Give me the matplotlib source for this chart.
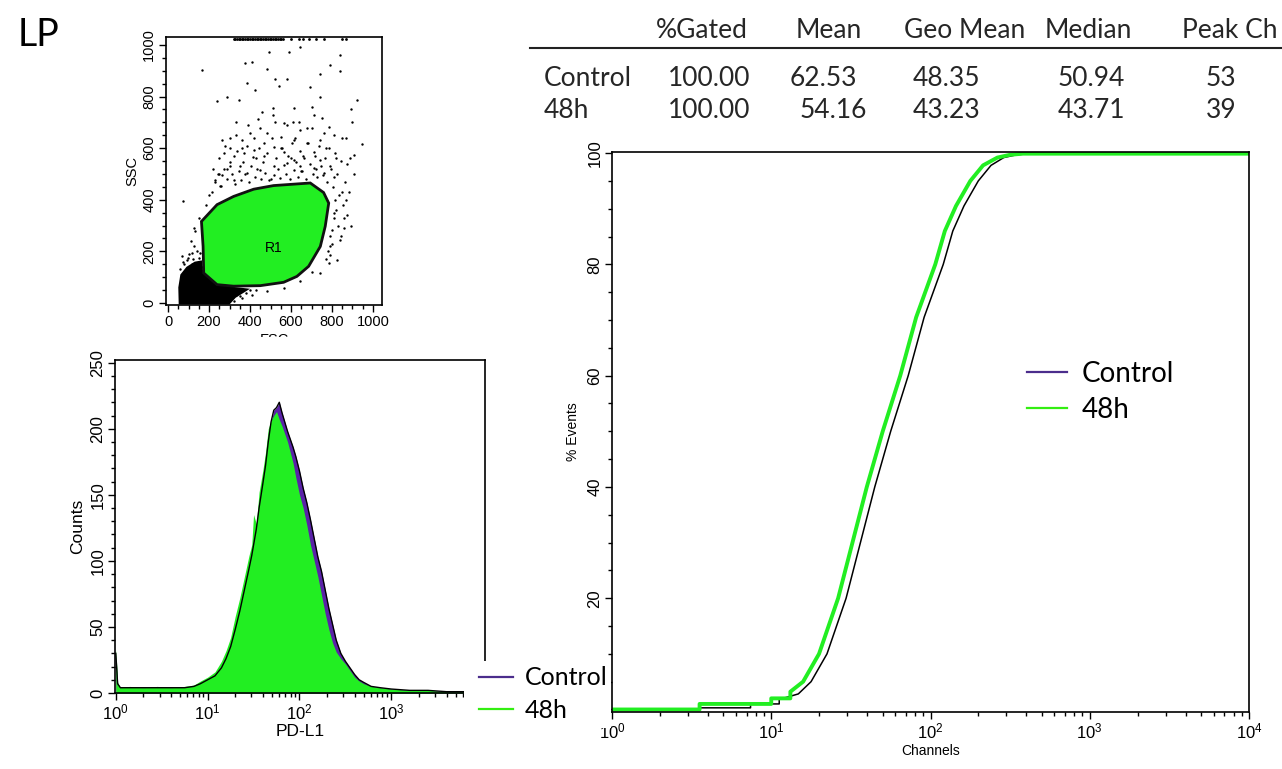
import matplotlib
matplotlib.use('Agg')
import matplotlib.pyplot as plt
from matplotlib.lines import Line2D
from matplotlib.patches import Polygon, Rectangle
from matplotlib.ticker import MultipleLocator, LogLocator, NullFormatter
import numpy as np

W, H = 1282, 769

# ---- data ----
# scatter: gate R1 and events outside it
gate_fsc = [163, 239, 320, 418, 515, 694, 759, 784, 767, 743, 686, 629, 564, 450, 320, 239, 174, 171]
gate_ssc = [316, 381, 413, 441, 455, 465, 428, 387, 297, 219, 142, 103, 80, 67, 65, 71, 116, 219]
debris_fsc = [52, 50, 60, 90, 130, 165, 172, 239, 320, 400, 330, 300]
debris_ssc = [-6, 60, 110, 140, 160, 165, 116, 71, 62, 55, 20, -6]
dot_fsc = [166, 73, 288, 239, 377, 410, 483, 491, 589, 646, 840, 840, 789, 743, 694, 922, 894, 946,
           907, 873, 849, 857, 841, 826, 702, 792, 613, 580, 524, 426, 385, 345, 441, 514, 514, 564,
           646, 711, 751, 784, 808, 743, 676, 613, 551, 483, 418, 361, 304, 263, 272, 320, 369, 418,
           470, 518, 564, 613, 660, 711, 743, 792, 808, 353, 304, 263, 231, 215, 255, 320, 385, 450,
           515, 580, 646, 711, 759, 816, 808, 800, 792, 784, 743, 646, 564, 483, 402, 320, 255, 190,
           125, 93, 117, 141, 223, 255, 320, 353, 68, 125, 158, 540, 610, 700, 470, 330, 600, 430,
           360, 680, 550, 460, 740, 620, 300, 400, 250, 290, 500, 650, 870, 900, 820, 770, 720,
           230, 245, 260, 275, 290, 300, 310, 325, 335, 345, 355, 365, 375, 385, 395, 405, 415, 425,
           435, 445, 455, 465, 475, 485, 495, 505, 515, 525, 535, 545, 555, 565, 575, 585, 595, 605,
           615, 625, 635, 645, 655, 665, 675, 685, 695, 705, 715, 725, 735, 745, 755, 765, 775, 785,
           795, 805, 815, 825, 835, 845, 855, 865, 875, 885, 895, 905, 820, 830, 845, 800, 810, 860,
           790, 780, 770, 870, 890, 850, 760, 700, 640, 580, 520, 450, 390, 330, 280, 250, 220, 200,
           185, 150, 130, 110, 140, 100, 80, 120,
           60, 75, 95, 115, 140, 150, 165, 180, 200, 230, 260, 290, 330, 360, 380, 410, 430, 250,
           200, 350]
dot_ssc = [903, 396, 800, 781, 929, 935, 907, 972, 974, 994, 961, 901, 923, 888, 839, 787, 751, 617,
           574, 539, 432, 329, 245, 168, 119, 187, 755, 868, 867, 826, 852, 787, 714, 755, 729, 697,
           671, 729, 716, 684, 652, 632, 619, 632, 645, 658, 639, 632, 639, 632, 581, 568, 581, 594,
           568, 606, 587, 555, 568, 587, 555, 529, 490, 529, 529, 497, 477, 432, 452, 477, 503, 516,
           529, 542, 529, 523, 503, 400, 348, 284, 219, 155, 116, 84, 58, 45, 52, 39, 32, 39,
           292, 168, 194, 77, 32, 13, 6, 26, 181, 219, 194, 840, 700, 760, 620, 700, 560, 560,
           600, 680, 600, 740, 800, 640, 600, 660, 500, 520, 480, 510, 640, 700, 560, 600, 520,
           470, 500, 455, 520, 480, 545, 500, 460, 590, 510, 475, 545, 500, 610, 470, 530, 565, 490,
           520, 600, 480, 545, 505, 580, 475, 640, 495, 560, 520, 485, 600, 535, 500, 570, 480, 620,
           515, 545, 490, 590, 510, 560, 480, 620, 540, 500, 570, 490, 610, 530, 495, 560, 470, 600,
           520, 450, 580, 500, 420, 550, 380, 470, 340, 430, 300, 500, 360, 300, 260, 230, 330, 290,
           260, 200, 170, 400, 560, 640, 660, 680, 700, 690, 700, 680, 690, 650, 610, 560, 520, 420,
           380, 330, 280, 240, 200, 190, 150, 170,
           130, 160, 175, 150, 130, 175, 140, 90, 60, 45, 40, 35, 30, 20, 40, 30, 50, 20,
           25, 50]
top_fsc = [320, 328, 336, 344, 352, 360, 368, 376, 384, 392, 400, 408, 416, 424, 432, 440, 448, 456,
           464, 472, 480, 488, 496, 504, 512, 520, 528, 536, 544, 552, 560, 600, 640, 660, 690, 720,
           760, 850, 870]

# histogram (log10 channel, counts)
pdl1_log = [0.00, 0.02, 0.05, 0.15, 0.30, 0.45, 0.60, 0.75, 0.85, 0.92, 1.00, 1.08, 1.15, 1.20, 1.25,
            1.30, 1.35, 1.40, 1.45, 1.48, 1.50, 1.53, 1.56, 1.60, 1.63, 1.66, 1.69, 1.72, 1.75, 1.78,
            1.81, 1.84, 1.87, 1.90, 1.93, 1.96, 2.00, 2.04, 2.08, 2.12, 2.16, 2.20, 2.24, 2.28, 2.32,
            2.36, 2.40, 2.45, 2.50, 2.55, 2.60, 2.65, 2.70, 2.78, 2.88, 3.00, 3.20, 3.40, 3.60, 3.80]
h48_counts = [33, 8, 4, 5, 4, 5, 4, 5, 6, 9, 12, 16, 24, 32, 42,
              58, 72, 88, 104, 112, 135, 128, 152, 168, 182, 200, 206, 210, 213, 207,
              202, 196, 190, 182, 174, 163, 150, 140, 127, 112, 100, 88, 74, 60, 48,
              38, 31, 26, 22, 17, 12, 9, 7, 5, 4, 3, 2, 2, 1, 1]
ctrl_counts = [30, 7, 4, 4, 4, 4, 4, 4, 5, 7, 10, 13, 19, 26, 35,
               48, 62, 78, 94, 104, 112, 124, 140, 158, 172, 190, 205, 214, 216, 220,
               212, 205, 198, 192, 186, 179, 168, 155, 144, 131, 117, 103, 92, 78, 64,
               52, 40, 30, 24, 19, 14, 10, 8, 5, 4, 3, 2, 2, 1, 1]

# cumulative % events
cdf48_log = [0.0, 0.55, 0.55, 1.00, 1.00, 1.12, 1.12, 1.20, 1.30, 1.42, 1.51, 1.60, 1.70, 1.81, 1.91,
             2.03, 2.09, 2.16, 2.25, 2.33, 2.42, 2.50, 2.58, 4.0]
cdf48_pct = [0.0, 0.0, 1.0, 1.0, 2.0, 2.0, 3.2, 5.0, 10.0, 20.0, 30.0, 40.0, 50.0, 60.0, 70.5,
             80.0, 86.0, 90.5, 95.0, 97.8, 99.2, 99.7, 99.9, 99.9]
cdfc_log = [0.0, 0.55, 0.55, 0.87, 0.87, 1.05, 1.05, 1.17, 1.25, 1.35, 1.47, 1.56, 1.65, 1.75, 1.86,
            1.96, 2.08, 2.14, 2.21, 2.30, 2.38, 2.46, 2.54, 2.62, 4.0]
cdfc_pct = [0.0, 0.0, 0.3, 0.3, 1.0, 1.0, 1.8, 2.8, 5.0, 10.0, 20.0, 30.0, 40.0, 50.0, 60.0,
            70.5, 80.0, 86.0, 90.5, 95.0, 97.8, 99.2, 99.7, 99.9, 99.9]

# statistics table
table_cols = ['%Gated', 'Mean', 'Geo Mean', 'Median', 'Peak Ch']
table_rows = ['Control', '48h']
table_vals = [['100.00', '62.53', '48.35', '50.94', '53'],
              ['100.00', '54.16', '43.23', '43.71', '39']]

green = '#22ee22'
purple = '#5a22a8'
legend_purple = '#4b2d8c'
tick_font = 'Liberation Sans'
text_font = 'Lato'
plt.rcParams['mathtext.default'] = 'regular'
plt.rcParams['font.family'] = tick_font


def fx(px):
    return px / W


def fy(py):
    return 1 - py / H


def axes_px(left, top, right, bottom):
    return [fx(left), fy(bottom), (right - left) / W, (bottom - top) / H]


def style(ax, size):
    ax.tick_params(which='both', direction='out', labelsize=size, width=1, pad=2)
    ax.tick_params(which='major', length=5)
    ax.tick_params(which='minor', length=3)
    for s in ax.spines.values():
        s.set_linewidth(1.2)
    for lab in ax.get_yticklabels():
        lab.set_rotation(90)
        lab.set_va('center')


fig = plt.figure(figsize=(W / 100, H / 100), dpi=100)

# ---- scatter FSC/SSC ----
ax1 = fig.add_axes(axes_px(166, 37, 382, 305))
ax1.add_patch(Polygon(np.column_stack([debris_fsc, debris_ssc]), closed=True, fc='k', ec='none'))
ax1.scatter(dot_fsc, dot_ssc, s=3, c='k', lw=0)
ax1.scatter(top_fsc, [1022] * len(top_fsc), s=4, c='k', lw=0, clip_on=False)
ax1.add_patch(Polygon(np.column_stack([gate_fsc, gate_ssc]), closed=True, fc=green, ec='#111111', lw=2))
ax1.text(515, 213, 'R1', ha='center', va='center', fontsize=10)
ax1.set_xlim(-10, 1044)
ax1.set_ylim(-8, 1031)
ax1.set_xticks(range(0, 1001, 200))
ax1.set_yticks(range(0, 1001, 200))
ax1.xaxis.set_minor_locator(MultipleLocator(50))
ax1.yaxis.set_minor_locator(MultipleLocator(50))
ax1.set_ylabel('SSC', fontsize=10.5, labelpad=2)
ax1.set_xlabel('FSC', fontsize=10.5, labelpad=3)
style(ax1, 10.5)

# ---- histogram ----
ax2 = fig.add_axes(axes_px(115, 360, 485, 693))
hx = 10 ** np.array(pdl1_log)
ax2.fill_between(hx, ctrl_counts, color=purple, lw=0)
ax2.plot(hx, ctrl_counts, color='k', lw=1)
ax2.fill_between(hx, h48_counts, color=green, lw=0)
ax2.set_xscale('log')
ax2.set_xlim(0.98, 10 ** 4.02)
ax2.set_ylim(0, 252)
ax2.set_yticks(range(0, 251, 50))
ax2.yaxis.set_minor_locator(MultipleLocator(10))
ax2.xaxis.set_major_locator(LogLocator(base=10, numticks=10))
ax2.xaxis.set_minor_locator(LogLocator(base=10, subs=np.arange(2, 10), numticks=20))
ax2.xaxis.set_minor_formatter(NullFormatter())
ax2.set_ylabel('Counts', fontsize=12.5, labelpad=4)
ax2.set_xlabel('PD-L1', fontsize=12.5, labelpad=1)
style(ax2, 12)

# ---- cumulative plot ----
ax3 = fig.add_axes(axes_px(612, 152, 1249, 712))
ax3.plot(10 ** np.array(cdfc_log), cdfc_pct, color='k', lw=1.1)
ax3.plot(10 ** np.array(cdf48_log), cdf48_pct, color=green, lw=2.8)
ax3.set_xscale('log')
ax3.set_xlim(1, 1e4)
ax3.set_ylim(-0.45, 100.2)
ax3.set_yticks(range(20, 101, 20))
ax3.yaxis.set_minor_locator(MultipleLocator(5))
ax3.xaxis.set_major_locator(LogLocator(base=10, numticks=10))
ax3.xaxis.set_minor_locator(LogLocator(base=10, subs=np.arange(2, 10), numticks=20))
ax3.xaxis.set_minor_formatter(NullFormatter())
ax3.set_ylabel('% Events', fontsize=10, labelpad=5)
ax3.set_xlabel('Channels', fontsize=10, labelpad=2)
style(ax3, 12)

leg_handles = [Line2D([], [], color=legend_purple, lw=1.6), Line2D([], [], color='#33ee11', lw=1.6)]
ax3.legend(leg_handles, table_rows, loc='center left', bbox_to_anchor=(fx(1027), fy(392)),
           bbox_transform=fig.transFigure, frameon=False, prop={'family': text_font, 'size': 20},
           handlelength=1.44, handletextpad=0.54, labelspacing=0.35, borderpad=0, borderaxespad=0)

# white box behind the histogram legend, and over the cropped FSC label
fig.add_artist(Rectangle((fx(464), fy(728)), (611 - 464) / W, (728 - 661) / H,
                         transform=fig.transFigure, fc='white', ec='none', zorder=3))
fig.add_artist(Rectangle((fx(220), fy(354)), 120 / W, 17 / H,
                         transform=fig.transFigure, fc='white', ec='none', zorder=3))
fig.legend(leg_handles, table_rows, loc='center left', bbox_to_anchor=(fx(479), fy(694)),
           frameon=False, prop={'family': text_font, 'size': 18},
           handlelength=1.37, handletextpad=0.46, labelspacing=0.38, borderpad=0, borderaxespad=0)

# ---- statistics table ----
head_x = [656, 796, 904, 1045, 1182]
row_y = [78, 110]
val_x = [[668, 790, 913, 1058, 1206], [668, 800, 913, 1058, 1206]]
for c, x in zip(table_cols, head_x):
    fig.text(fx(x), fy(30), c, fontsize=19, family=text_font, ha='left', va='center', color='#262626')
fig.add_artist(Line2D([fx(530), fx(1282)], [fy(48), fy(48)], color='#222222', lw=1.5))
for r, y, vals, xs in zip(table_rows, row_y, table_vals, val_x):
    fig.text(fx(544), fy(y), r, fontsize=19, family=text_font, ha='left', va='center', color='#262626')
    for v, x in zip(vals, xs):
        fig.text(fx(x), fy(y), v, fontsize=19, family=text_font, ha='left', va='center', color='#262626')

fig.text(fx(18), fy(35), 'LP', fontsize=27, family=text_font, ha='left', va='center')

fig.savefig('out.png', dpi=100)
